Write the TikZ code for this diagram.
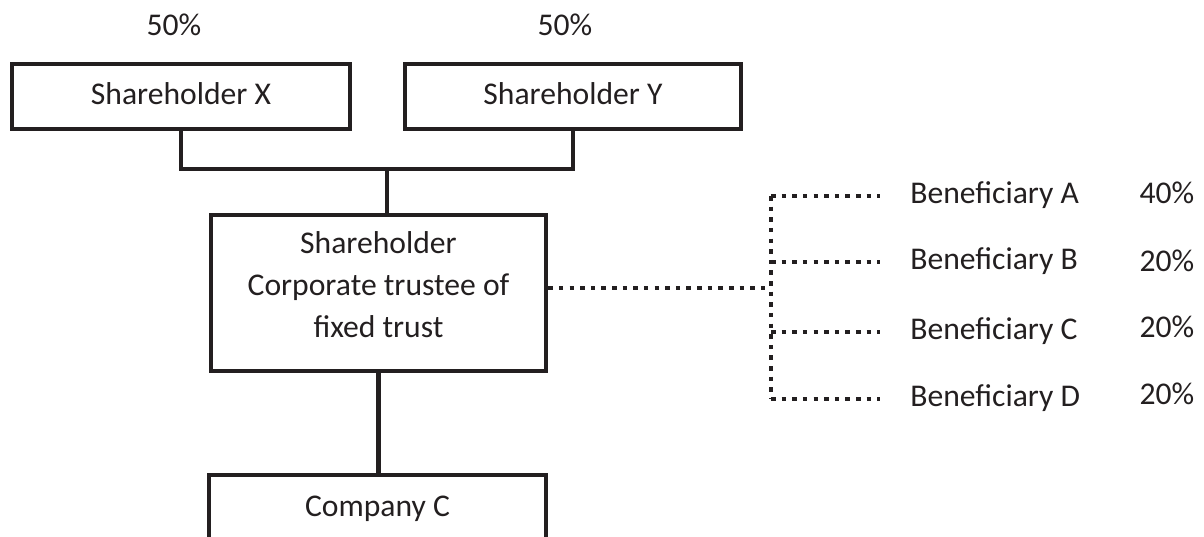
\documentclass[tikz,border=0pt]{standalone}
\usepackage{fontspec}
\setmainfont{Carlito}
\usetikzlibrary{positioning}
\definecolor{ink}{HTML}{231F20}
\begin{document}
\begin{tikzpicture}[x=0.02cm, y=-0.02cm, font=\fontsize{18pt}{24pt}\selectfont]
	\tikzstyle{Frame}	= [draw=ink, line width=2.6pt, inner sep=0pt, text=ink]
	\tikzstyle{Line}	= [text height=13pt, text depth=4pt]
	\tikzstyle{Box}		= [Frame, Line, minimum height=1.30cm]
	\tikzstyle{Label}	= [Line, inner sep=0pt, text=ink]
	\tikzstyle{Link}	= [draw=ink, line width=2.4pt]
	\tikzstyle{Share}	= [draw=ink, line width=2.6pt, dash pattern=on 2.6pt off 3.45pt]

	\clip (0,0) rectangle (1204,537);

	\node (pX) at (174,28) [Label] {50\%};
	\node (pY) at (565,28) [Label] {50\%};
	\node (sX) at (181,96.5) [Box, minimum width=6.76cm] {Shareholder X};
	\node (sY) at (573,96.5) [Box, minimum width=6.72cm] {Shareholder Y};

	\node (tr) at (378.5,293) [Frame, minimum width=6.70cm, minimum height=3.12cm, align=center, text depth=10pt] {Shareholder\\Corporate trustee of\\fixed trust};
	\node (coC) at (377.5,509) [Box, minimum width=6.74cm, minimum height=1.36cm] {Company C};

	\node (bA) at (910,196) [Label, anchor=west] {Beneficiary A};
	\node (bB) at (910,262) [Label, anchor=west] {Beneficiary B};
	\node (bC) at (910,332) [Label, anchor=west] {Beneficiary C};
	\node (bD) at (910,399) [Label, anchor=west] {Beneficiary D};
	\node (qA) at (1167,196) [Label] {40\%};
	\node (qB) at (1167,264) [Label] {20\%};
	\node (qC) at (1167,330) [Label] {20\%};
	\node (qD) at (1167,397) [Label] {20\%};

	\coordinate (fork) at (387,169);
	\coordinate (jn) at (771,288);

	\draw [-] (sX.south) |- (fork) -| (sY.south) [Link];
	\draw [-] (fork) to (fork |- tr.north) [Link];
	\draw [-] (tr.south) to (tr.south |- coC.north) [Link];

	\draw [-] (tr.east |- jn) to (jn) [Share];
	\draw [-] (jn |- bA.west) to (jn |- bD.west) [Share];
	\foreach \b in {bA,bB,bC,bD}
		\draw [-] (jn |- \b.west) to ([xshift=-0.6cm]\b.west) [Share];
\end{tikzpicture}
\end{document}
